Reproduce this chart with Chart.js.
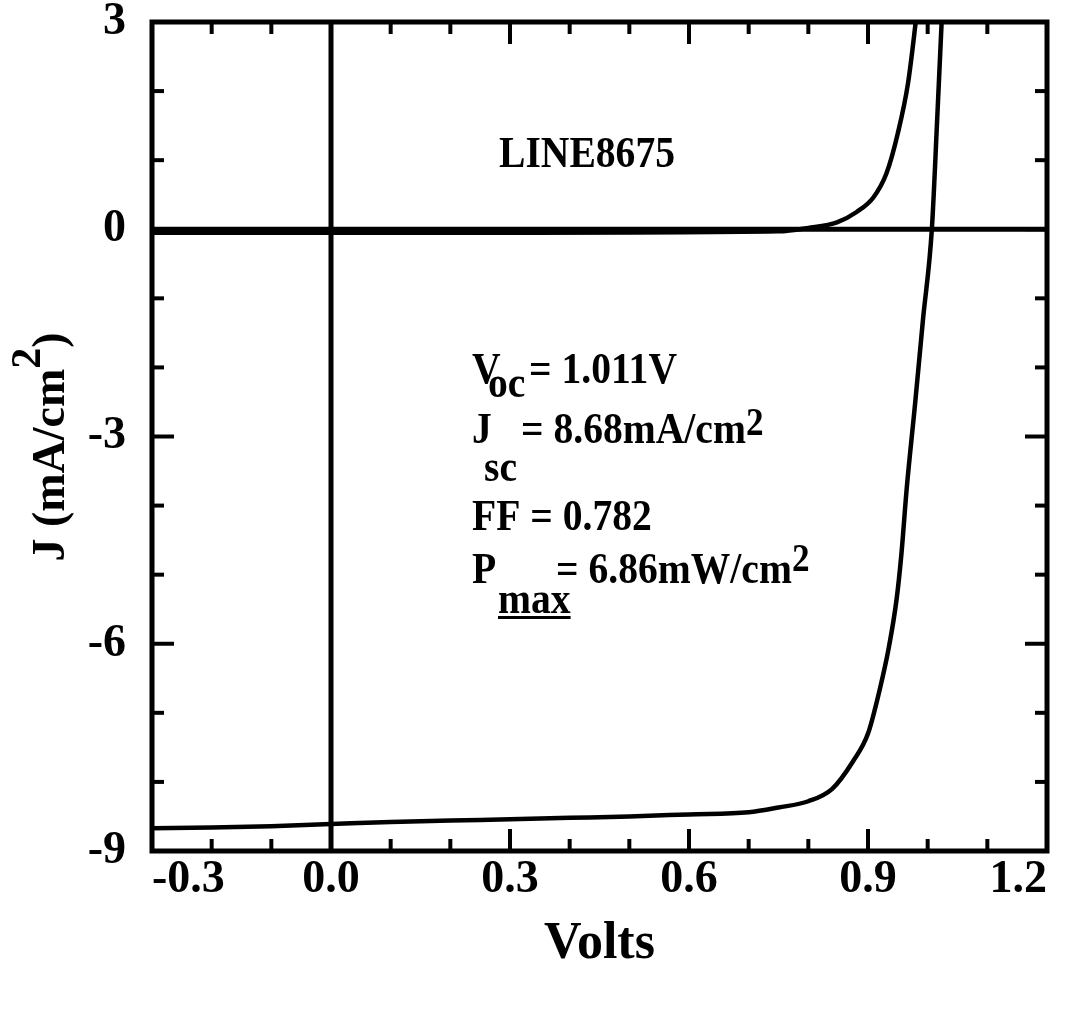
<!DOCTYPE html>
<html>
<head>
<meta charset="utf-8">
<script src="https://cdn.jsdelivr.net/npm/chart.js@4.4.1/dist/chart.umd.min.js"></script>
<style>
  html, body { margin: 0; padding: 0; background: #fff; }
</style>
</head>
<body>
<canvas id="c" width="1081" height="1026"></canvas>
<script>
// illuminated J-V curve (V, mA/cm2)
const lightV = [-0.30, -0.20, -0.10, 0.00, 0.10, 0.20, 0.30, 0.40, 0.50, 0.60, 0.70, 0.75, 0.80, 0.84, 0.875, 0.90, 0.92, 0.935, 0.948, 0.956, 0.965, 0.979, 0.992, 1.007, 1.016, 1.025];
const lightJ = [-8.67, -8.66, -8.64, -8.61, -8.58, -8.56, -8.54, -8.52, -8.50, -8.47, -8.44, -8.37, -8.28, -8.10, -7.70, -7.30, -6.65, -6.05, -5.35, -4.70, -3.74, -2.52, -1.32, 0.00, 1.60, 3.30];
// dark J-V curve
const darkV = [-0.30, 0.30, 0.75, 0.80, 0.848, 0.881, 0.909, 0.931, 0.950, 0.967, 0.979, 0.985];
const darkJ = [-0.05, -0.05, -0.03, 0.02, 0.10, 0.25, 0.46, 0.81, 1.39, 2.11, 2.93, 3.40];

const xTicks = [-0.3, 0.0, 0.3, 0.6, 0.9, 1.2];
const yTicks = [3, 0, -3, -6, -9];
const sampleName = 'LINE8675';

const serif = "'Liberation Serif', 'Times New Roman', serif";

function fnt(size) { return 'bold ' + size + 'px ' + serif; }

// draws pieces of text, each piece: {t, size, x (abs, optional), dy, under}
function richText(ctx, x0, base, parts, sx) {
  let cx = x0;
  parts.forEach(p => {
    ctx.font = fnt(p.size);
    const w = ctx.measureText(p.t).width * sx;
    const px = p.x !== undefined ? p.x : cx;
    const py = base + (p.dy || 0);
    ctx.save();
    ctx.translate(px, py);
    ctx.scale(sx, 1);
    ctx.fillText(p.t, 0, 0);
    ctx.restore();
    if (p.under) {
      ctx.fillRect(px, py + 3, w, 3);
    }
    cx = px + w;
  });
}

const framePlugin = {
  id: 'frame',
  beforeDatasetsDraw(chart) {
    const { ctx, chartArea: a, scales: { x, y } } = chart;
    ctx.save();
    ctx.strokeStyle = '#000';
    ctx.lineCap = 'butt';
    const seg = (x1, y1, x2, y2) => { ctx.beginPath(); ctx.moveTo(x1, y1); ctx.lineTo(x2, y2); ctx.stroke(); };

    // zero lines
    ctx.lineWidth = 5;
    const x0 = x.getPixelForValue(0), y0 = y.getPixelForValue(0);
    seg(x0, a.top, x0, a.bottom);
    seg(a.left, y0, a.right, y0);

    // inward tick marks
    ctx.lineWidth = 4;
    for (let i = 0; i <= 15; i++) {
      const px = x.getPixelForValue(-0.3 + i * 0.1);
      const len = i % 3 === 0 ? 22 : 12;
      seg(px, a.bottom, px, a.bottom - len);
      seg(px, a.top, px, a.top + len);
    }
    for (let v = -9; v <= 3; v++) {
      const py = y.getPixelForValue(v);
      const len = v % 3 === 0 ? 22 : 12;
      seg(a.left, py, a.left + len, py);
      seg(a.right, py, a.right - len, py);
    }

    // frame
    ctx.lineWidth = 5;
    ctx.strokeRect(a.left, a.top, a.right - a.left, a.bottom - a.top);
    ctx.restore();
  },
  afterDraw(chart) {
    const { ctx } = chart;
    ctx.save();
    ctx.fillStyle = '#000';
    ctx.textBaseline = 'alphabetic';
    ctx.textAlign = 'left';
    const sx = 0.88;

    // sample name
    ctx.font = fnt(45);
    const nw = ctx.measureText(sampleName).width * sx;
    richText(ctx, 587 - nw / 2, 167, [{ t: sampleName, size: 45 }], sx);

    // cell parameters
    richText(ctx, 472, 383, [
      { t: 'V', size: 45 },
      { t: 'oc', size: 45, x: 488, dy: 14 },
      { t: '= 1.011V', size: 45, x: 529 }
    ], sx);
    richText(ctx, 472, 443, [
      { t: 'J', size: 45 },
      { t: 'sc', size: 45, x: 484, dy: 38 },
      { t: '= 8.68mA/cm', size: 45, x: 521 },
      { t: '2', size: 40, dy: -8 }
    ], sx);
    richText(ctx, 472, 530, [
      { t: 'FF = 0.782', size: 45 }
    ], sx);
    richText(ctx, 472, 583, [
      { t: 'P', size: 45 },
      { t: 'max', size: 45, x: 498, dy: 30, under: true },
      { t: '= 6.86mW/cm', size: 45, x: 556 },
      { t: '2', size: 40, dy: -12 }
    ], sx);

    // y axis title, rotated
    ctx.translate(64, 447);
    ctx.rotate(-Math.PI / 2);
    const yParts = [
      { t: 'J (mA/cm', size: 46 },
      { t: '2', size: 42, dy: -24 },
      { t: ')', size: 46 }
    ];
    let total = 0;
    yParts.forEach(p => { ctx.font = fnt(p.size); total += ctx.measureText(p.t).width; });
    richText(ctx, -total / 2, 0, yParts, 1);
    ctx.restore();
  }
};

const tickFont = { family: serif, weight: 'bold', size: 46 };

new Chart(document.getElementById('c'), {
  type: 'scatter',
  data: {
    datasets: [
      {
        label: 'Light',
        data: lightV.map((v, i) => ({ x: v, y: lightJ[i] })),
        showLine: true,
        borderColor: '#000',
        borderWidth: 4.5,
        pointRadius: 0,
        cubicInterpolationMode: 'monotone'
      },
      {
        label: 'Dark',
        data: darkV.map((v, i) => ({ x: v, y: darkJ[i] })),
        showLine: true,
        borderColor: '#000',
        borderWidth: 4.5,
        pointRadius: 0,
        cubicInterpolationMode: 'monotone'
      }
    ]
  },
  options: {
    responsive: false,
    animation: false,
    layout: { padding: { top: 22, right: 34, left: 0, bottom: 0 } },
    plugins: { legend: { display: false }, tooltip: { enabled: false } },
    scales: {
      x: {
        type: 'linear',
        min: -0.3,
        max: 1.2,
        afterBuildTicks: s => { s.ticks = xTicks.map(v => ({ value: v })); },
        afterFit: s => { s.height = 175; s.paddingLeft = 0; s.paddingRight = 0; },
        grid: { display: false, drawTicks: false },
        border: { display: false },
        ticks: {
          color: '#000',
          font: tickFont,
          padding: 2,
          align: 'inner',
          maxRotation: 0,
          autoSkip: false,
          callback: v => Number(v).toFixed(1)
        },
        title: {
          display: true,
          text: 'Volts',
          color: '#000',
          font: { family: serif, weight: 'bold', size: 52 },
          padding: { top: 0, bottom: 50 }
        }
      },
      y: {
        type: 'linear',
        min: -9,
        max: 3,
        afterBuildTicks: s => { s.ticks = yTicks.map(v => ({ value: v })); },
        afterFit: s => { s.width = 152; s.paddingTop = 0; s.paddingBottom = 0; },
        grid: { display: false, drawTicks: false },
        border: { display: false },
        ticks: {
          color: '#000',
          font: tickFont,
          padding: 26,
          autoSkip: false,
          callback: v => String(v)
        }
      }
    }
  },
  plugins: [framePlugin]
});
</script>
</body>
</html>
